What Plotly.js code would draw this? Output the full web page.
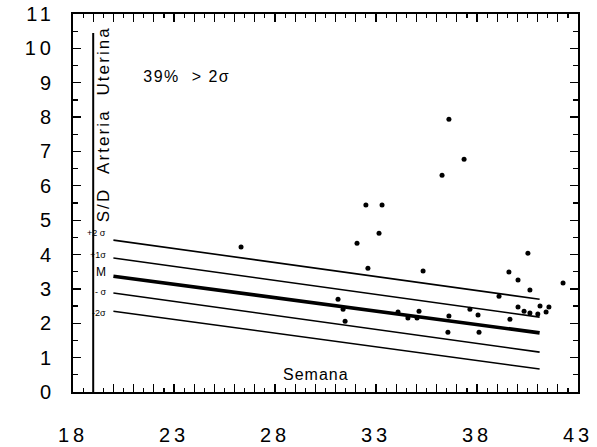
<!DOCTYPE html>
<html>
<head>
<meta charset="utf-8">
<script src="https://cdn.plot.ly/plotly-3.0.1.min.js"></script>
<style>
  html, body { margin: 0; padding: 0; background: #fff; }
  .xtick text, .ytick text, .x2tick text, .y2tick text { letter-spacing: 4px; }
  .annotation[data-index="0"] text { letter-spacing: 1.5px; }
  .annotation[data-index="1"] text { letter-spacing: 2.1px; }
  .annotation[data-index="2"] text { letter-spacing: 1px; }
</style>
</head>
<body>
<div id="chart" style="width:597px;height:447px;"></div>
<script>
// Reference lines (weeks at start/end, S/D values)
const lineWeeks = [20, 41.1];
const plus2Sigma = [4.42, 2.70];
const plus1Sigma = [3.90, 2.18];
const meanLine   = [3.37, 1.72];
const minus1Sigma = [2.88, 1.16];
const minus2Sigma = [2.35, 0.67];

// Observed points
const pointWeeks = [36.61, 37.36, 36.27, 32.50, 33.30, 33.15, 32.06, 40.52, 32.60, 35.33,
                    39.58, 40.03, 42.26, 40.62, 39.09, 31.12, 31.37, 31.47, 34.09, 34.58,
                    35.13, 35.03, 36.61, 36.56, 37.65, 38.05, 38.10, 39.63, 40.03, 40.33,
                    40.62, 41.01, 41.12, 41.42, 41.56, 26.32];
const pointSD    = [7.94, 6.77, 6.31, 5.44, 5.44, 4.62, 4.33, 4.04, 3.60, 3.52,
                    3.49, 3.26, 3.17, 2.97, 2.79, 2.70, 2.41, 2.06, 2.33, 2.15,
                    2.35, 2.15, 2.21, 1.74, 2.41, 2.24, 1.74, 2.12, 2.47, 2.35,
                    2.30, 2.27, 2.50, 2.33, 2.47, 4.22];

// Tick labels
const xTickValues = [18, 23, 28, 33, 38, 43];
const xTickLabels = ['18', '23', '28', '33', '38', '43'];
const yTickValues = [0, 1, 2, 3, 4, 5, 6, 7, 8, 9, 10, 11];
const yTickLabels = ['0', '1', '2', '3', '4', '5', '6', '7', '8', '9', '10', '11'];

// Line labels
const lineLabels = ['+2 σ', '+1σ', 'M', '- σ', '-2σ'];
const lineLabelY = [4.62, 3.98, 3.49, 2.91, 2.30];

const innerAxisWeek = 19;
const innerAxisTop = 10.45;

const thin = {color: '#000', width: 1.6};
const traces = [
  {x: lineWeeks, y: plus2Sigma, mode: 'lines', line: thin, hoverinfo: 'skip'},
  {x: lineWeeks, y: plus1Sigma, mode: 'lines', line: thin, hoverinfo: 'skip'},
  {x: lineWeeks, y: meanLine, mode: 'lines', line: {color: '#000', width: 3.6}, hoverinfo: 'skip'},
  {x: lineWeeks, y: minus1Sigma, mode: 'lines', line: thin, hoverinfo: 'skip'},
  {x: lineWeeks, y: minus2Sigma, mode: 'lines', line: thin, hoverinfo: 'skip'},
  {x: [innerAxisWeek, innerAxisWeek], y: [0, innerAxisTop], mode: 'lines',
   line: {color: '#000', width: 2}, hoverinfo: 'skip'},
  {x: pointWeeks, y: pointSD, mode: 'markers', marker: {color: '#000', size: 5}},
  // empty carrier so the label axes (x2/y2) are drawn
  {x: [], y: [], xaxis: 'x2', yaxis: 'y2', mode: 'markers', hoverinfo: 'skip'}
];

const FONT = 'Liberation Sans, Arial';
const annotations = [
  {x: 21.7, y: 9.19, xref: 'x', yref: 'y', text: '39%\u00a0\u00a0> 2σ', showarrow: false,
   xanchor: 'left', yanchor: 'middle', font: {family: FONT, size: 16, color: '#000'}},
  {x: 19.55, y: 7.8, xref: 'x', yref: 'y', text: 'S/D\u00a0\u00a0Arteria\u00a0\u00a0Uterina', showarrow: false,
   textangle: -90, xanchor: 'center', yanchor: 'middle',
   font: {family: FONT, size: 17, color: '#000'}},
  {x: 30.03, y: 0.52, xref: 'x', yref: 'y', text: 'Semana', showarrow: false,
   xanchor: 'center', yanchor: 'middle', font: {family: FONT, size: 16, color: '#000'}}
];
lineLabels.forEach((t, i) => {
  annotations.push({x: 19.75, y: lineLabelY[i], xref: 'x', yref: 'y', text: t, showarrow: false,
    xanchor: 'right', yanchor: 'middle',
    font: {family: FONT, size: t === 'M' ? 12 : 9, color: '#000'}});
});

const tickStyle = {ticks: 'inside', tickwidth: 1.2, tickcolor: '#000'};
const layout = {
  width: 597, height: 447,
  margin: {l: 73, r: 19, t: 14, b: 55, pad: 0},
  paper_bgcolor: '#fff', plot_bgcolor: '#fff',
  showlegend: false,
  font: {family: FONT, color: '#000'},
  xaxis: Object.assign({
    range: [18, 43], showgrid: false, zeroline: false,
    showline: true, linecolor: '#000', linewidth: 1.6, mirror: 'ticks',
    tickmode: 'linear', tick0: 18, dtick: 1, ticklen: 8, showticklabels: false,
    minor: {dtick: 0.5, ticks: 'inside', ticklen: 4, tickwidth: 1.2, tickcolor: '#000', showgrid: false}
  }, tickStyle),
  xaxis2: {
    range: [18, 43], overlaying: 'x', anchor: 'y2', side: 'bottom',
    showgrid: false, zeroline: false, showline: false, ticks: '',
    tickmode: 'array', tickvals: xTickValues, ticktext: xTickLabels,
    ticklabelstandoff: 29,
    tickfont: {family: FONT, size: 20, color: '#000'}
  },
  yaxis: Object.assign({
    range: [0, 11], showgrid: false, zeroline: false,
    showline: true, linecolor: '#000', linewidth: 1.6, mirror: 'ticks',
    tickmode: 'linear', tick0: 0, dtick: 1, ticklen: 8, showticklabels: false,
    minor: {dtick: 0.5, ticks: 'inside', ticklen: 5, tickwidth: 1.2, tickcolor: '#000', showgrid: false}
  }, tickStyle),
  yaxis2: {
    range: [0, 11], overlaying: 'y', anchor: 'x2', side: 'left',
    showgrid: false, zeroline: false, showline: false, ticks: '',
    tickmode: 'array', tickvals: yTickValues, ticktext: yTickLabels,
    ticklabelstandoff: 17,
    tickfont: {family: FONT, size: 20, color: '#000'}
  },
  annotations: annotations
};

Plotly.newPlot('chart', traces, layout, {staticPlot: true, displayModeBar: false});
</script>
</body>
</html>
